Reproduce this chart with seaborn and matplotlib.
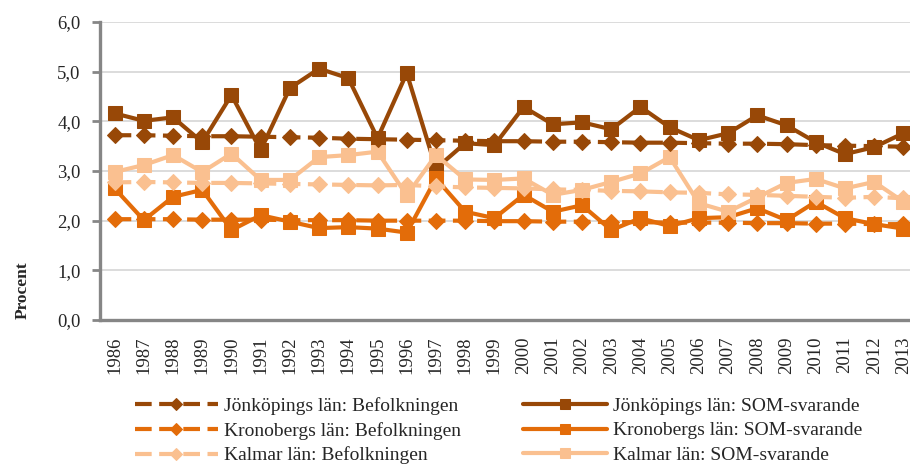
import seaborn as sns
import matplotlib.pyplot as plt
import matplotlib.ticker as mticker
import numpy as np
import pandas as pd

# data
years = [str(y) for y in range(1986, 2014)]

jonk_bef = [3.72, 3.72, 3.71, 3.70, 3.70, 3.69, 3.68, 3.67, 3.65, 3.64, 3.63, 3.62, 3.61, 3.60,
            3.60, 3.59, 3.59, 3.58, 3.57, 3.57, 3.56, 3.55, 3.55, 3.54, 3.52, 3.51, 3.50, 3.49]
jonk_som = [4.16, 4.01, 4.08, 3.58, 4.53, 3.42, 4.67, 5.06, 4.87, 3.66, 4.97, 3.05, 3.56, 3.52,
            4.29, 3.94, 3.98, 3.84, 4.29, 3.88, 3.62, 3.76, 4.12, 3.92, 3.58, 3.34, 3.48, 3.76]
kron_bef = [2.03, 2.03, 2.03, 2.02, 2.02, 2.02, 2.01, 2.01, 2.01, 2.00, 2.00, 2.00, 2.00, 1.99,
            1.99, 1.98, 1.98, 1.97, 1.97, 1.96, 1.96, 1.96, 1.95, 1.95, 1.94, 1.94, 1.93, 1.93]
kron_som = [2.65, 2.01, 2.48, 2.62, 1.81, 2.11, 1.98, 1.85, 1.87, 1.84, 1.76, 2.85, 2.18, 2.05,
            2.52, 2.18, 2.31, 1.81, 2.05, 1.89, 2.05, 2.07, 2.25, 2.01, 2.38, 2.05, 1.93, 1.84]
kalm_bef = [2.77, 2.78, 2.77, 2.76, 2.76, 2.75, 2.74, 2.73, 2.72, 2.71, 2.72, 2.69, 2.67, 2.66,
            2.65, 2.63, 2.62, 2.60, 2.59, 2.57, 2.56, 2.53, 2.52, 2.50, 2.48, 2.46, 2.48, 2.45]
kalm_som = [2.98, 3.12, 3.32, 2.98, 3.35, 2.82, 2.82, 3.28, 3.32, 3.39, 2.51, 3.32, 2.83, 2.82,
            2.85, 2.52, 2.62, 2.78, 2.95, 3.28, 2.35, 2.18, 2.47, 2.76, 2.84, 2.65, 2.78, 2.38]

dark, mid, light = '#984807', '#E36C09', '#FAC090'

series = [
    ('Jönköpings län: Befolkningen', jonk_bef, dark, 'D', True),
    ('Kronobergs län: Befolkningen', kron_bef, mid, 'D', True),
    ('Kalmar län: Befolkningen', kalm_bef, light, 'D', True),
    ('Jönköpings län: SOM-svarande', jonk_som, dark, 's', False),
    ('Kronobergs län: SOM-svarande', kron_som, mid, 's', False),
    ('Kalmar län: SOM-svarande', kalm_som, light, 's', False),
]

sns.set_style('white')
plt.rcParams['font.family'] = ['Liberation Serif', 'DejaVu Serif']

fig = plt.figure(figsize=(9.1, 4.66), dpi=100)
ax = fig.add_axes([100 / 910, 1 - 320 / 466, 818 / 910, 298 / 466])

# draw solid ones first so the dashed lines sit on top
order = [3, 4, 5, 0, 1, 2]
for i in order:
    name, vals, col, mk, dashed = series[i]
    df = pd.DataFrame({'Year': years, 'Value': vals})
    kw = dict(linestyle=(0, (4, 1.8))) if dashed else dict(linestyle='-')
    sns.lineplot(data=df, x='Year', y='Value', ax=ax, color=col, marker=mk,
                 markersize=9.5 if mk == 's' else 8, markeredgecolor=col,
                 linewidth=3, label=name, sort=False, **kw)

ax.set_ylim(0, 6)
ax.set_xlim(-0.5, len(years) - 0.5)
ax.yaxis.set_major_locator(mticker.MultipleLocator(1))
ax.yaxis.set_major_formatter(mticker.FuncFormatter(lambda v, p: f'{v:.1f}'.replace('.', ',')))
ax.grid(axis='y', color='#D9D9D9', linewidth=1.3)
ax.set_axisbelow(True)

for s in ['top', 'right']:
    ax.spines[s].set_visible(False)
for s in ['left', 'bottom']:
    ax.spines[s].set_color('#868686')
    ax.spines[s].set_linewidth(2.4)

ax.set_xticks(range(len(years)))
ax.set_xticklabels(years, rotation=90)
ax.set_xticks(np.arange(-0.5, len(years), 1), minor=True)
ax.tick_params(axis='x', which='major', length=0, pad=12, labelsize=13.5)
ax.tick_params(axis='x', which='minor', length=6, width=2, color='#868686', direction='out')
ax.tick_params(axis='y', length=6, width=2, color='#868686', direction='out', pad=8,
               labelsize=13.5, left=True)

ax.set_xlabel('')
ax.set_ylabel('Procent', fontweight='bold', fontsize=12.5)
ax.yaxis.set_label_coords(-0.085, 0.1)

handles, labels = ax.get_legend_handles_labels()
lookup = dict(zip(labels, handles))
names = [s[0] for s in series]
ax.legend([lookup[n] for n in names], names, ncol=2, loc='upper center',
          bbox_to_anchor=(0.487, -0.2), frameon=False, fontsize=14, markerscale=0.8,
          handlelength=4.3, handletextpad=0.3, columnspacing=3.2, labelspacing=0.35)

plt.savefig('out.png', dpi=100)
